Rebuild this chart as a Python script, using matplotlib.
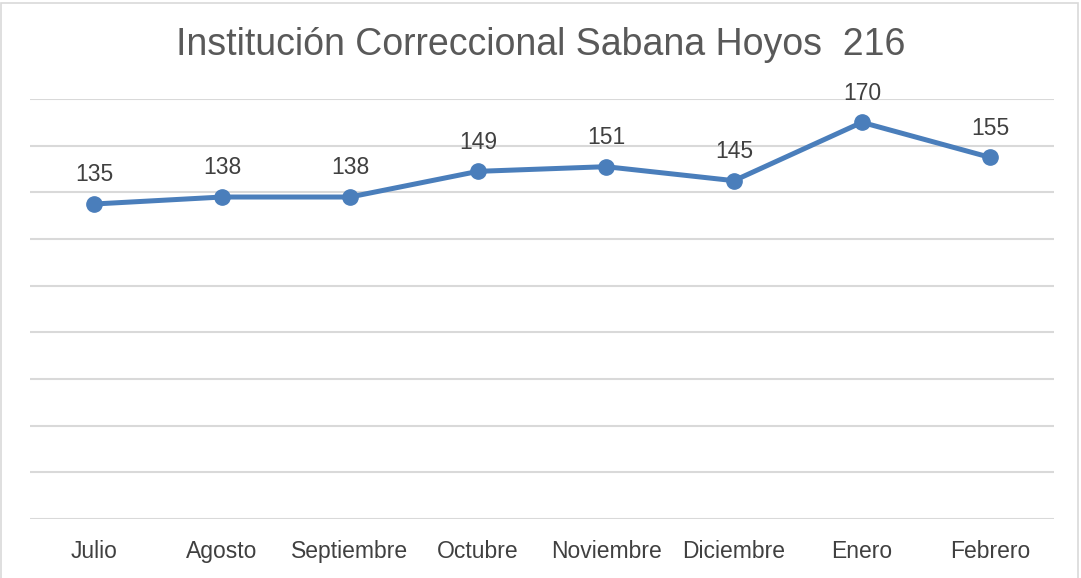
# Line chart: Institución Correccional Sabana Hoyos 216, monthly counts.
import matplotlib.pyplot as plt
from matplotlib.patches import Rectangle

months = ['Julio', 'Agosto', 'Septiembre', 'Octubre', 'Noviembre',
          'Diciembre', 'Enero', 'Febrero']
values = [135, 138, 138, 149, 151, 145, 170, 155]
title = 'Institución Correccional Sabana Hoyos  216'

plt.rcParams['font.family'] = ['Liberation Sans', 'DejaVu Sans']

fig = plt.figure(figsize=(10.81, 5.78), dpi=100)
ax = fig.add_axes([0.0278, 0.102, 0.9472, 0.7267])

# Chart border.
fig.patches.append(Rectangle((0.001, -0.01), 0.996, 1.005, transform=fig.transFigure,
                             fill=False, edgecolor='#d9d9d9', linewidth=1.2))

x = list(range(len(months)))
ax.plot(x, values, color='#4a7ebb', linewidth=3.6, marker='o', markersize=11,
        solid_capstyle='round', zorder=3)
for xi, v in zip(x, values):
    ax.annotate(str(v), (xi, v), xytext=(0, 21), textcoords='offset points',
                ha='center', va='center', fontsize=16.5, color='#404040')

ax.set_xlim(-0.5, len(months) - 0.5)
ax.set_ylim(0, 180)
ax.set_yticks(range(0, 181, 20))
ax.set_yticklabels([])
ax.set_xticks(x)
ax.set_xticklabels(months, fontsize=16.5, color='#404040')
ax.tick_params(axis='both', length=0)
ax.tick_params(axis='x', pad=15)
ax.grid(axis='y', color='#d9d9d9', linewidth=1.5)
ax.set_axisbelow(True)
for s in ax.spines.values():
    s.set_visible(False)

fig.text(0.5, 1 - 45 / 578, title, ha='center', va='center',
         fontsize=27, color='#595959')

plt.savefig('out.png', dpi=100)
